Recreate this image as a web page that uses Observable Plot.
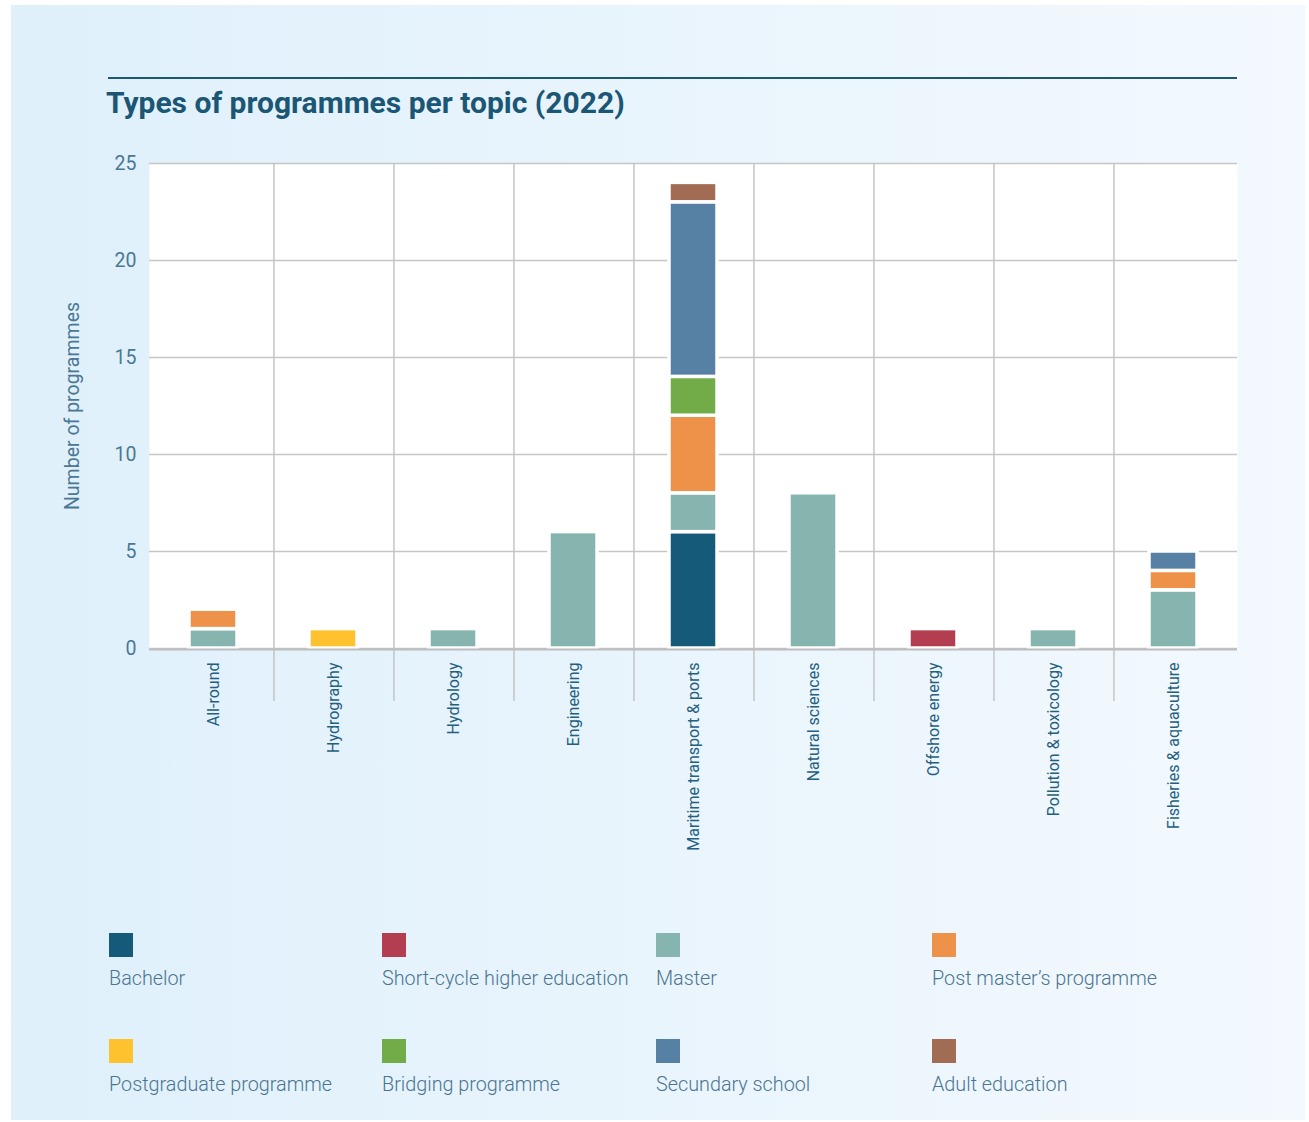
<!DOCTYPE html>
<html><head><meta charset="utf-8">
<script src="https://cdn.jsdelivr.net/npm/d3@7"></script>
<script src="https://cdn.jsdelivr.net/npm/@observablehq/plot@0.6"></script>
<style>
body{margin:0;background:#fff;font-family:Roboto,sans-serif;}
#card{position:absolute;left:11px;top:5px;width:1294px;height:1115px;background:linear-gradient(to right,#dff0fb,#f3f9fe);overflow:hidden;}
#rule{position:absolute;left:97px;top:72px;width:1129px;height:0;border-top:2px solid #1d5871;}
#title{position:absolute;left:95px;top:80px;font-size:30px;font-weight:700;color:#1b5775;white-space:nowrap;}
#chart{position:absolute;left:0;top:140px;}
.sw{position:absolute;width:24px;height:24px;}
.lb{position:absolute;font-size:19.8px;font-weight:300;color:#4a7590;line-height:22px;white-space:nowrap;}
</style>
</head><body>
<div id="card">
  <div id="rule"></div>
  <div id="title">Types of programmes per topic (2022)</div>
  <div id="chart"></div>
  <div id="legend"></div>
</div>
<script>
const topics = ["All-round","Hydrography","Hydrology","Engineering","Maritime transport & ports","Natural sciences","Offshore energy","Pollution & toxicology","Fisheries & aquaculture"];
const types = ["Bachelor","Short-cycle higher education","Master","Post master’s programme","Postgraduate programme","Bridging programme","Secundary school","Adult education"];
const colors = ["#155a78","#b33e50","#85b5ae","#ee924a","#fec22f","#72ac48","#5781a4","#a26b53"];
const bachelor     = [0,0,0,0,6,0,0,0,0];
const shortCycle   = [0,0,0,0,0,0,1,0,0];
const master       = [1,0,1,6,2,8,0,1,3];
const postMaster   = [1,0,0,0,4,0,0,0,1];
const postgraduate = [0,1,0,0,0,0,0,0,0];
const bridging     = [0,0,0,0,2,0,0,0,0];
const secundary    = [0,0,0,0,9,0,0,0,1];
const adult        = [0,0,0,0,1,0,0,0,0];
const yTicks = [0,5,10,15,20,25];

const series = [bachelor, shortCycle, master, postMaster, postgraduate, bridging, secundary, adult];
const rows = [];
series.forEach((vals, ti) => vals.forEach((v, i) => { if (v > 0) rows.push({topic: topics[i], type: types[ti], value: v}); }));

const W = 1294, ML = 138, MR = 68;
const step = (W - ML - MR) / topics.length;

const chart = Plot.plot({
  width: W, height: 723,
  marginLeft: ML, marginRight: MR, marginTop: 18, marginBottom: 220,
  style: {fontFamily: "Roboto, sans-serif", background: "transparent"},
  x: {domain: topics, padding: 0},
  y: {domain: [0, 25]},
  color: {domain: types, range: colors},
  marks: [
    Plot.frame({fill: "white", stroke: null}),
    Plot.ruleY(yTicks, {stroke: "#c6c6c6", strokeWidth: 1.5}),
    Plot.ruleX(topics.slice(0, -1), {x: d => d, dx: step / 2, stroke: "#c4c4c4", strokeWidth: 1.5, insetBottom: -53}),
    Plot.barY(rows, {x: "topic", y: "value", fill: "type", stroke: "white", strokeWidth: 3.5, insetLeft: 36, insetRight: 36}),
    Plot.ruleY([0], {stroke: "#bdbdbd", strokeWidth: 2, dy: 1}),
    Plot.axisY({ticks: yTicks, tickSize: 0, tickPadding: 13, fontSize: 19.5, fill: "#4a7894", label: "Number of programmes", labelAnchor: "center", labelOffset: 84, labelArrow: "none"}),
    Plot.axisX({tickSize: 0, tickPadding: 14, tickRotate: -90, fontSize: 16, fill: "#24607e", label: null})
  ]
});
document.getElementById("chart").appendChild(chart);

const legend = document.getElementById("legend");
const colX = [98, 371, 645, 921];
const rowY = [928, 1034];
types.forEach((t, i) => {
  const c = i % 4, r = Math.floor(i / 4);
  const sw = document.createElement("div");
  sw.className = "sw"; sw.style.left = colX[c] + "px"; sw.style.top = rowY[r] + "px"; sw.style.background = colors[i];
  const lb = document.createElement("div");
  lb.className = "lb"; lb.style.left = colX[c] + "px"; lb.style.top = (rowY[r] + 35) + "px"; lb.textContent = t;
  legend.appendChild(sw); legend.appendChild(lb);
});
</script>
</body></html>
